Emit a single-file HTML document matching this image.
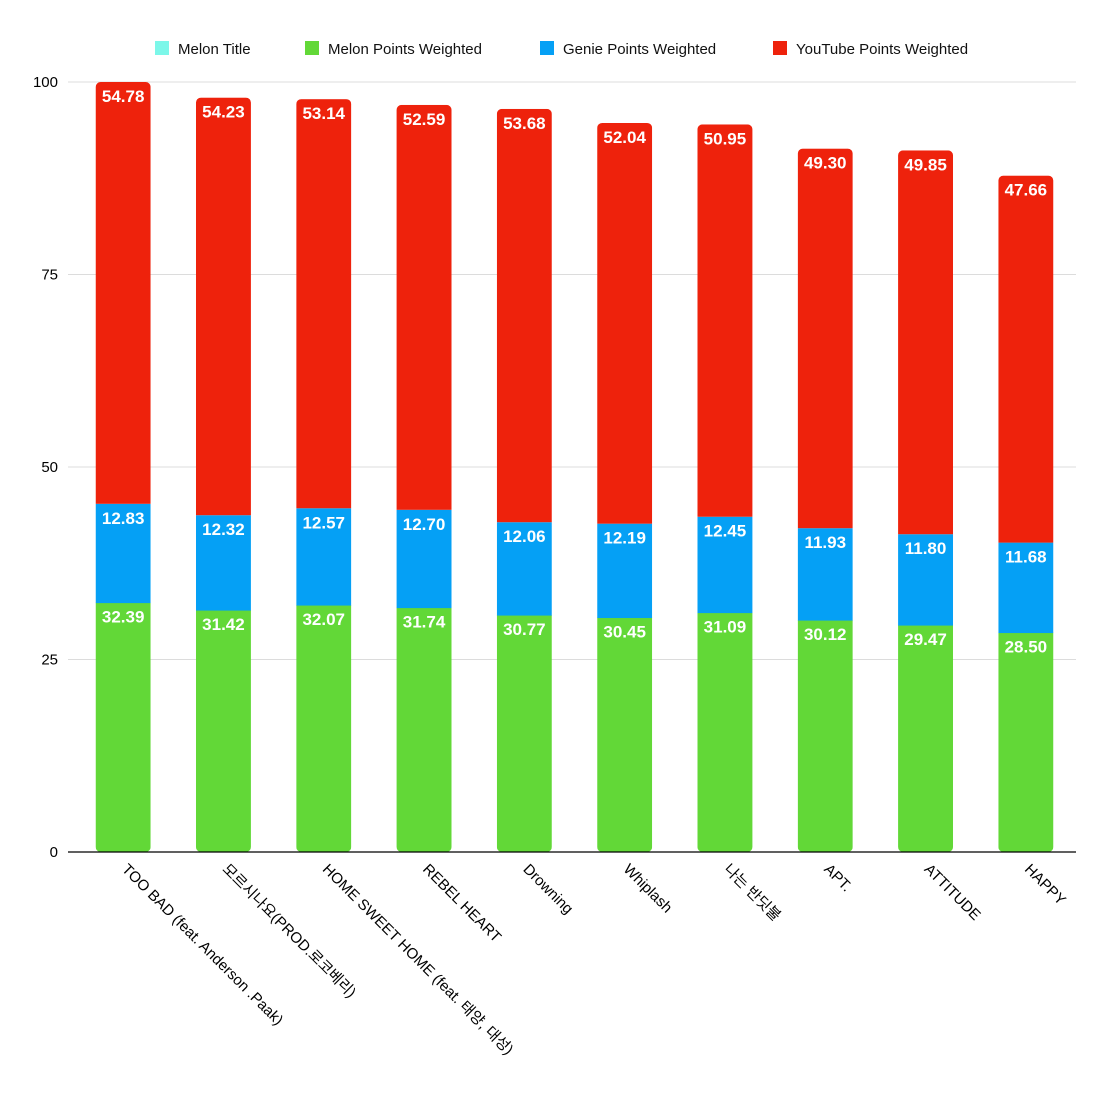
<!DOCTYPE html>
<html><head><meta charset="utf-8"><style>
html,body{margin:0;padding:0;background:#fff;}
svg{display:block;font-family:"Liberation Sans","Noto Sans CJK KR",sans-serif;}
</style></head><body>
<svg id="chart" width="1106" height="1096"></svg>
<script>
const categories=["TOO BAD (feat. Anderson .Paak)","모르시나요(PROD.로코베리)","HOME SWEET HOME (feat. 태양, 대성)","REBEL HEART","Drowning","Whiplash","나는 반딧불","APT.","ATTITUDE","HAPPY"];
const melonTitle=[0,0,0,0,0,0,0,0,0,0];
const melonPoints=[32.39,31.42,32.07,31.74,30.77,30.45,31.09,30.12,29.47,28.50];
const geniePoints=[12.83,12.32,12.57,12.70,12.06,12.19,12.45,11.93,11.80,11.68];
const youtubePoints=[54.78,54.23,53.14,52.59,53.68,52.04,50.95,49.30,49.85,47.66];
const yTicks=[0,25,50,75,100];
const seriesNames=["Melon Title","Melon Points Weighted","Genie Points Weighted","YouTube Points Weighted"];
const seriesColors=["#7cf7e9","#62d837","#05a0f5","#ee220c"];

const svg=document.getElementById('chart');
const NS='http://www.w3.org/2000/svg';
function mk(t,a){const e=document.createElementNS(NS,t);for(const k in a)e.setAttribute(k,a[k]);return e;}
const x0=73,x1=1076,y0=852,yTop=82;
const yScale=v=>y0-(v/100)*(y0-yTop);
const band=(x1-x0)/categories.length;
const xCenter=i=>x0+band*(i+0.5);
const barW=55;

// gridlines & ticks
yTicks.forEach(t=>{
  const y=yScale(t);
  if(t>0){const g=mk('line',{x1:68,x2:1076,y1:y,y2:y,stroke:'#dcdcdc','stroke-width':1});
  
  
  svg.appendChild(g);}
  const tx=mk('text',{x:58,y:y+5,'text-anchor':'end','font-size':15,fill:'#000'});
  tx.textContent=t;
  
  
  svg.appendChild(tx);
});

// legend
const legX=[155,305,540,773];
seriesNames.forEach((n,i)=>{
  const g=mk('g',{});
  
  
  g.appendChild(mk('rect',{x:legX[i],y:41,width:14,height:14,fill:seriesColors[i]}));
  const t=mk('text',{x:legX[i]+23,y:54,'font-size':15,fill:'#111'});
  t.textContent=n;
  g.appendChild(t);
  svg.appendChild(g);
});

const defs=mk('defs',{});svg.appendChild(defs);
categories.forEach((c,i)=>{
  const cx=xCenter(i), bx=cx-barW/2;
  const segs=[melonTitle[i],melonPoints[i],geniePoints[i],youtubePoints[i]];
  const total=segs.reduce((a,b)=>a+b,0);
  const cp=mk('clipPath',{id:'clip'+i});
  cp.appendChild(mk('rect',{x:bx,y:yScale(total),width:barW,height:y0-yScale(total),rx:5,ry:5}));
  defs.appendChild(cp);
  const g=mk('g',{'clip-path':'url(#clip'+i+')'});
  
  
  let acc=0;
  const labels=[];
  segs.forEach((v,s)=>{
    if(v<=0){return;}
    const yt=yScale(acc+v), yb=yScale(acc);
    const r=mk('rect',{x:bx,y:yt,width:barW,height:yb-yt+(s<3?0.5:0),fill:seriesColors[s]});
    
    
    g.appendChild(r);
    labels.push([v,yt]);
    acc+=v;
  });
  svg.appendChild(g);
  labels.forEach(([v,yt])=>{
    const t=mk('text',{x:cx,y:yt+20,'text-anchor':'middle','font-size':17,'font-weight':'bold',fill:'#fff'});
    t.textContent=v.toFixed(2);
    
    
    svg.appendChild(t);
  });
  const lx=cx-2, ly=870;
  const lt=mk('text',{x:lx,y:ly,'font-size':15,fill:'#000',transform:'rotate(45 '+lx+' '+ly+')'});
  lt.textContent=c;
  
  
  svg.appendChild(lt);
});
const ax=mk('line',{x1:68,x2:1076,y1:y0,y2:y0,stroke:'#000','stroke-width':1.3});


svg.appendChild(ax);
</script>
</body></html>
